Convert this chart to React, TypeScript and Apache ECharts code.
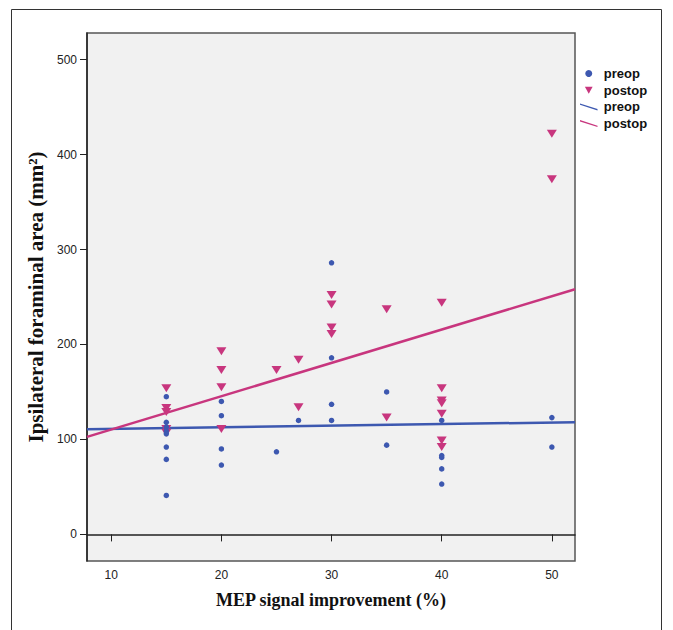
import React, { useEffect, useRef } from "react";
import * as echarts from "echarts";

// MEP signal improvement (%) and ipsilateral foraminal area (mm²)
const preopPoints: [number, number][] = [
  [15, 145], [15, 118], [15, 113], [15, 109], [15, 106], [15, 92], [15, 79], [15, 41],
  [20, 140], [20, 125], [20, 90], [20, 73],
  [25, 87],
  [27, 120],
  [30, 286], [30, 186], [30, 137], [30, 120],
  [35, 150], [35, 94],
  [40, 120], [40, 83], [40, 81], [40, 69], [40, 53],
  [50, 123], [50, 92],
];
const postopPoints: [number, number][] = [
  [15, 154], [15, 133], [15, 129], [15, 111], [15, 107],
  [20, 193], [20, 173], [20, 155], [20, 111],
  [25, 173],
  [27, 184], [27, 134],
  [30, 252], [30, 242], [30, 218], [30, 211],
  [35, 237], [35, 123],
  [40, 244], [40, 154], [40, 141], [40, 138], [40, 127], [40, 99], [40, 92],
  [50, 422], [50, 374],
];
// fit line end points
const preopFit: [number, number][] = [[7.8, 110.8], [52.1, 118.2]];
const postopFit: [number, number][] = [[7.8, 102.7], [52.1, 258.2]];

const xTicks = [10, 20, 30, 40, 50];
const yTicks = [0, 100, 200, 300, 400, 500];
const xRange = [7.8, 52.1];
const yRange = [-28, 528];

const BLUE = "#3d58b0";
const PINK = "#c8367e";
const TRI = "path://M0,0L10,0L5,9Z";
const LINE_ICON = "path://M0,0L20,6.5L20,8L0,1.5Z";

export default function App() {
  const ref = useRef<HTMLDivElement>(null);
  useEffect(() => {
    if (!ref.current) return;
    const chart = echarts.init(ref.current, undefined, { renderer: "svg" });
    const sans = "Liberation Sans, Arial, sans-serif";
    const serif = "Liberation Serif, Times New Roman, serif";
    chart.setOption({
      animation: false,
      backgroundColor: "#ffffff",
      grid: {
        left: 87,
        right: 98,
        top: 33,
        bottom: 69,
        show: true,
        backgroundColor: "#f1f1f1",
        borderColor: "#555",
        borderWidth: 1.5,
      },
      legend: {
        orient: "vertical",
        left: 580,
        top: 67,
        padding: 0,
        itemWidth: 20,
        itemHeight: 7,
        itemGap: 3.7,
        textStyle: { fontFamily: sans, fontWeight: "bold", fontSize: 13, color: "#111" },
        formatter: (n: string) => n.replace(" fit", ""),
        data: [
          { name: "preop", icon: "circle", itemStyle: { color: BLUE } },
          { name: "postop", icon: TRI, itemStyle: { color: PINK } },
          { name: "preop fit", icon: LINE_ICON, itemStyle: { color: BLUE } },
          { name: "postop fit", icon: LINE_ICON, itemStyle: { color: PINK } },
        ],
      },
      xAxis: {
        type: "value",
        min: xRange[0],
        max: xRange[1],
        name: "MEP signal improvement (%)",
        nameLocation: "middle",
        nameGap: 30,
        nameTextStyle: { fontFamily: serif, fontWeight: "bold", fontSize: 18, color: "#111" },
        axisLine: { show: true, lineStyle: { color: "#222", width: 1.5 } },
        axisTick: { show: true, length: 7, customValues: xTicks, lineStyle: { color: "#222" } },
        axisLabel: { customValues: xTicks, margin: 8, fontFamily: sans, fontSize: 12, color: "#222" },
        splitLine: { show: false },
      },
      yAxis: {
        type: "value",
        min: yRange[0],
        max: yRange[1],
        name: "Ipsilateral foraminal area (mm²)",
        nameLocation: "middle",
        nameGap: 40,
        nameTextStyle: { fontFamily: serif, fontWeight: "bold", fontSize: 21, color: "#111" },
        axisLine: { show: true, lineStyle: { color: "#222", width: 1.5 } },
        axisTick: { show: true, length: 7, customValues: yTicks, lineStyle: { color: "#222" } },
        axisLabel: { customValues: yTicks, margin: 10, fontFamily: sans, fontSize: 12, color: "#222" },
        splitLine: { show: false },
      },
      series: [
        {
          name: "preop fit",
          type: "line",
          data: preopFit,
          symbol: "none",
          lineStyle: { color: BLUE, width: 2.5 },
          itemStyle: { color: BLUE },
          z: 1,
        },
        {
          name: "postop fit",
          type: "line",
          data: postopFit,
          symbol: "none",
          lineStyle: { color: PINK, width: 2.5 },
          itemStyle: { color: PINK },
          z: 1,
        },
        {
          name: "preop",
          type: "scatter",
          data: preopPoints,
          symbol: "circle",
          symbolSize: 5.5,
          itemStyle: { color: BLUE, opacity: 1 },
          z: 3,
        },
        {
          name: "postop",
          type: "scatter",
          data: postopPoints,
          symbol: TRI,
          symbolSize: [10, 8],
          itemStyle: { color: PINK, opacity: 1 },
          z: 2,
        },
      ],
      graphic: [
        {
          type: "rect",
          shape: { x: 11.5, y: 9.5, width: 650, height: 640 },
          style: { fill: "none", stroke: "#333", lineWidth: 1 },
          silent: true,
          z: -1,
        },
      ],
    });
    return () => chart.dispose();
  }, []);
  return (
    <div
      ref={ref}
      style={{ position: "fixed", left: 0, top: 0, width: 673, height: 630 }}
    />
  );
}
